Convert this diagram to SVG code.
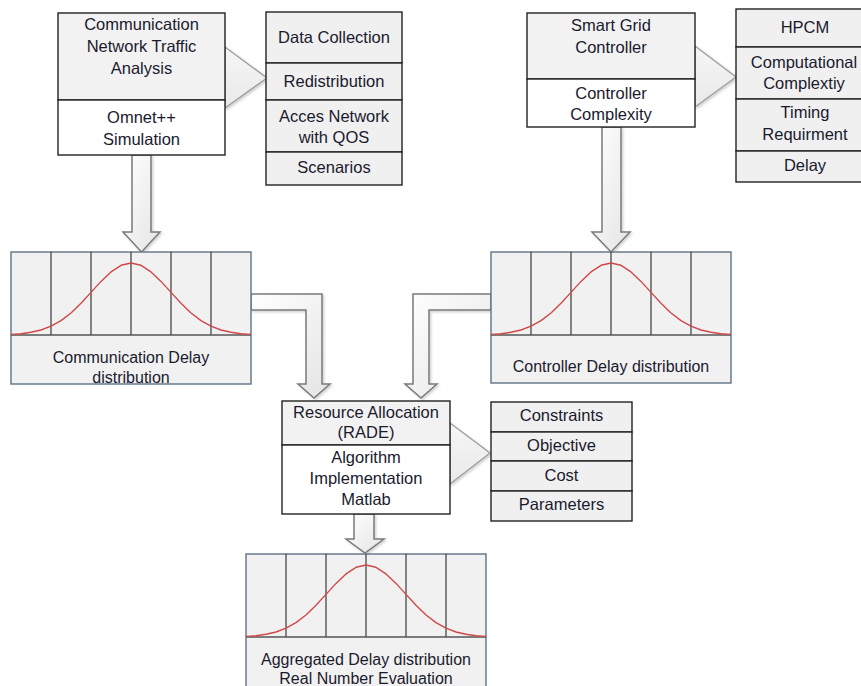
<svg xmlns="http://www.w3.org/2000/svg" width="861" height="686" viewBox="0 0 861 686">
  <defs>
    <style>
      .t { font-family: "Liberation Sans", Arial, sans-serif; font-size: 16.5px; fill: #1a1a2e; text-anchor: middle; }
      .s { font-family: "Liberation Sans", Arial, sans-serif; font-size: 16px; fill: #1a1a2e; text-anchor: middle; }
      .head { fill: #f2f2f2; stroke: #222; stroke-width: 1.4; }
      .body { fill: #ffffff; stroke: #222; stroke-width: 1.4; }
      .cell { fill: #f0f0f0; stroke: #222; stroke-width: 1.4; }
      .dist { fill: #f1f1f1; stroke: #5f7385; stroke-width: 1.4; }
      .grid { stroke: #3a3a3a; stroke-width: 1.2; fill: none; }
      .base { stroke: #555; stroke-width: 1.4; fill: none; }
      .bell { stroke: #d04848; stroke-width: 1.4; fill: none; stroke-linejoin: round; }
      .barrow { fill: url(#arrowFill); stroke: #7a7a7a; stroke-width: 1.5; stroke-linejoin: miter; filter: url(#soft); }
      .tri { fill: url(#triFill); stroke: #a2a2a2; stroke-width: 1.5; filter: url(#soft); }
    </style>
    <linearGradient id="arrowFill" x1="0" y1="0" x2="1" y2="1">
      <stop offset="0" stop-color="#ffffff"/>
      <stop offset="1" stop-color="#e4e4e4"/>
    </linearGradient>
    <linearGradient id="triFill" x1="0" y1="0" x2="0" y2="1">
      <stop offset="0" stop-color="#f6f6f6"/>
      <stop offset="1" stop-color="#e9e9e9"/>
    </linearGradient>
    <filter id="soft" x="-20%" y="-20%" width="140%" height="140%">
      <feDropShadow dx="1.5" dy="1.5" stdDeviation="1.2" flood-color="#000" flood-opacity="0.18"/>
    </filter>
    <!-- bell curve, centred on x=0 with its baseline at y=0 -->
    <polyline id="bellCurve" class="bell" points="-120,-0.6 -116,-0.9 -110,-1.3 -100,-2.7 -90,-5 -80,-8.8 -70,-14.4 -60,-22 -50,-31.7 -40,-42.6 -30,-53.6 -20,-63.1 -10,-69.7 0,-72 10,-69.7 20,-63.1 30,-53.6 40,-42.6 50,-31.7 60,-22 70,-14.4 80,-8.8 90,-5 100,-2.7 110,-1.3 116,-0.9 120,-0.6"/>
    <!-- histogram frame: six columns of 40px, 83px tall, anchored at top-left -->
    <g id="columns">
      <line class="grid" x1="40" y1="0" x2="40" y2="83"/>
      <line class="grid" x1="80" y1="0" x2="80" y2="83"/>
      <line class="grid" x1="120" y1="0" x2="120" y2="83"/>
      <line class="grid" x1="160" y1="0" x2="160" y2="83"/>
      <line class="grid" x1="200" y1="0" x2="200" y2="83"/>
      <line class="base" x1="0" y1="83" x2="240" y2="83"/>
    </g>
  </defs>

  <rect width="861" height="686" fill="#ffffff"/>

  <!-- connectors: block arrows and callout wedges -->
  <g id="connectors">
    <polygon class="tri" points="225,47 267,78 225,108"/>
    <polygon class="tri" points="695,46 736,77 695,107"/>
    <polygon class="tri" points="450,423 490,453 450,484"/>
    <polygon class="barrow" points="132,155 151,155 151,232 160,232 141.5,252 123,232 132,232"/>
    <polygon class="barrow" points="602,127 621,127 621,232 630,232 611,252 592,232 602,232"/>
    <polygon class="barrow" points="251,294 322,294 322,384 330,384 314,398 298,384 306,384 306,310 251,310"/>
    <polygon class="barrow" points="491,294 413,294 413,384 405,384 421,398 437,384 429,384 429,310 491,310"/>
    <polygon class="barrow" points="354,514 374,514 374,539 384,539 365,553 346,539 354,539"/>
  </g>

  <!-- traffic analysis -->
  <g id="traffic-analysis">
    <rect class="head" x="58" y="13" width="167" height="87"/>
    <rect class="body" x="58" y="100" width="167" height="55"/>
    <text class="t" x="141.5" y="30">Communication</text>
    <text class="t" x="141.5" y="52">Network Traffic</text>
    <text class="t" x="141.5" y="74">Analysis</text>
    <text class="t" x="141.5" y="123">Omnet++</text>
    <text class="t" x="141.5" y="145">Simulation</text>
  </g>

  <g id="traffic-items">
    <rect class="cell" x="266" y="12" width="136" height="51"/>
    <rect class="cell" x="266" y="63" width="136" height="37"/>
    <rect class="cell" x="266" y="100" width="136" height="52"/>
    <rect class="cell" x="266" y="152" width="136" height="33"/>
    <text class="t" x="334" y="43">Data Collection</text>
    <text class="t" x="334" y="87">Redistribution</text>
    <text class="t" x="334" y="121.5">Acces Network</text>
    <text class="t" x="334" y="143">with QOS</text>
    <text class="t" x="334" y="173">Scenarios</text>
  </g>

  <!-- grid controller -->
  <g id="grid-controller">
    <rect class="head" x="527" y="13" width="168" height="66"/>
    <rect class="body" x="527" y="79" width="168" height="48"/>
    <text class="t" x="611" y="30.5">Smart Grid</text>
    <text class="t" x="611" y="52.5">Controller</text>
    <text class="t" x="611" y="99">Controller</text>
    <text class="t" x="611" y="120">Complexity</text>
  </g>

  <g id="controller-items">
    <rect class="cell" x="736" y="9" width="138" height="38"/>
    <rect class="cell" x="736" y="47" width="138" height="52"/>
    <rect class="cell" x="736" y="99" width="138" height="52"/>
    <rect class="cell" x="736" y="151" width="138" height="31"/>
    <text class="t" x="805" y="33">HPCM</text>
    <text class="t" x="804" y="68">Computational</text>
    <text class="t" x="804" y="89">Complextiy</text>
    <text class="t" x="805" y="118">Timing</text>
    <text class="t" x="805" y="140">Requirment</text>
    <text class="t" x="805" y="170.5">Delay</text>
  </g>

  <!-- delay distributions -->
  <g id="communication-delay">
    <rect class="dist" x="11" y="252" width="240" height="132"/>
    <use href="#columns" x="11" y="252"/>
    <use href="#bellCurve" x="131" y="335"/>
    <text class="s" x="131" y="362.5">Communication Delay</text>
    <text class="s" x="131" y="383">distribution</text>
  </g>

  <g id="controller-delay">
    <rect class="dist" x="491" y="252" width="240" height="131"/>
    <use href="#columns" x="491" y="252"/>
    <use href="#bellCurve" x="611" y="335"/>
    <text class="s" x="611" y="371.5">Controller Delay distribution</text>
  </g>

  <!-- resource allocation -->
  <g id="resource-allocation">
    <rect class="head" x="282" y="401" width="168" height="44"/>
    <rect class="body" x="282" y="445" width="168" height="69"/>
    <text class="t" x="366" y="418">Resource Allocation</text>
    <text class="t" x="366" y="438">(RADE)</text>
    <text class="t" x="366" y="462.5">Algorithm</text>
    <text class="t" x="366" y="484">Implementation</text>
    <text class="t" x="366" y="505">Matlab</text>
  </g>

  <g id="allocation-items">
    <rect class="cell" x="491" y="402" width="141" height="30"/>
    <rect class="cell" x="491" y="432" width="141" height="29"/>
    <rect class="cell" x="491" y="461" width="141" height="30"/>
    <rect class="cell" x="491" y="491" width="141" height="30"/>
    <text class="t" x="561.5" y="420.5">Constraints</text>
    <text class="t" x="561.5" y="450.5">Objective</text>
    <text class="t" x="561.5" y="480.5">Cost</text>
    <text class="t" x="561.5" y="510">Parameters</text>
  </g>

  <g id="aggregated-delay">
    <rect class="dist" x="246" y="554" width="240" height="140"/>
    <use href="#columns" x="246" y="554"/>
    <use href="#bellCurve" x="366" y="637"/>
    <text class="s" x="366" y="665">Aggregated Delay distribution</text>
    <text class="s" x="366" y="684">Real Number Evaluation</text>
  </g>
</svg>
